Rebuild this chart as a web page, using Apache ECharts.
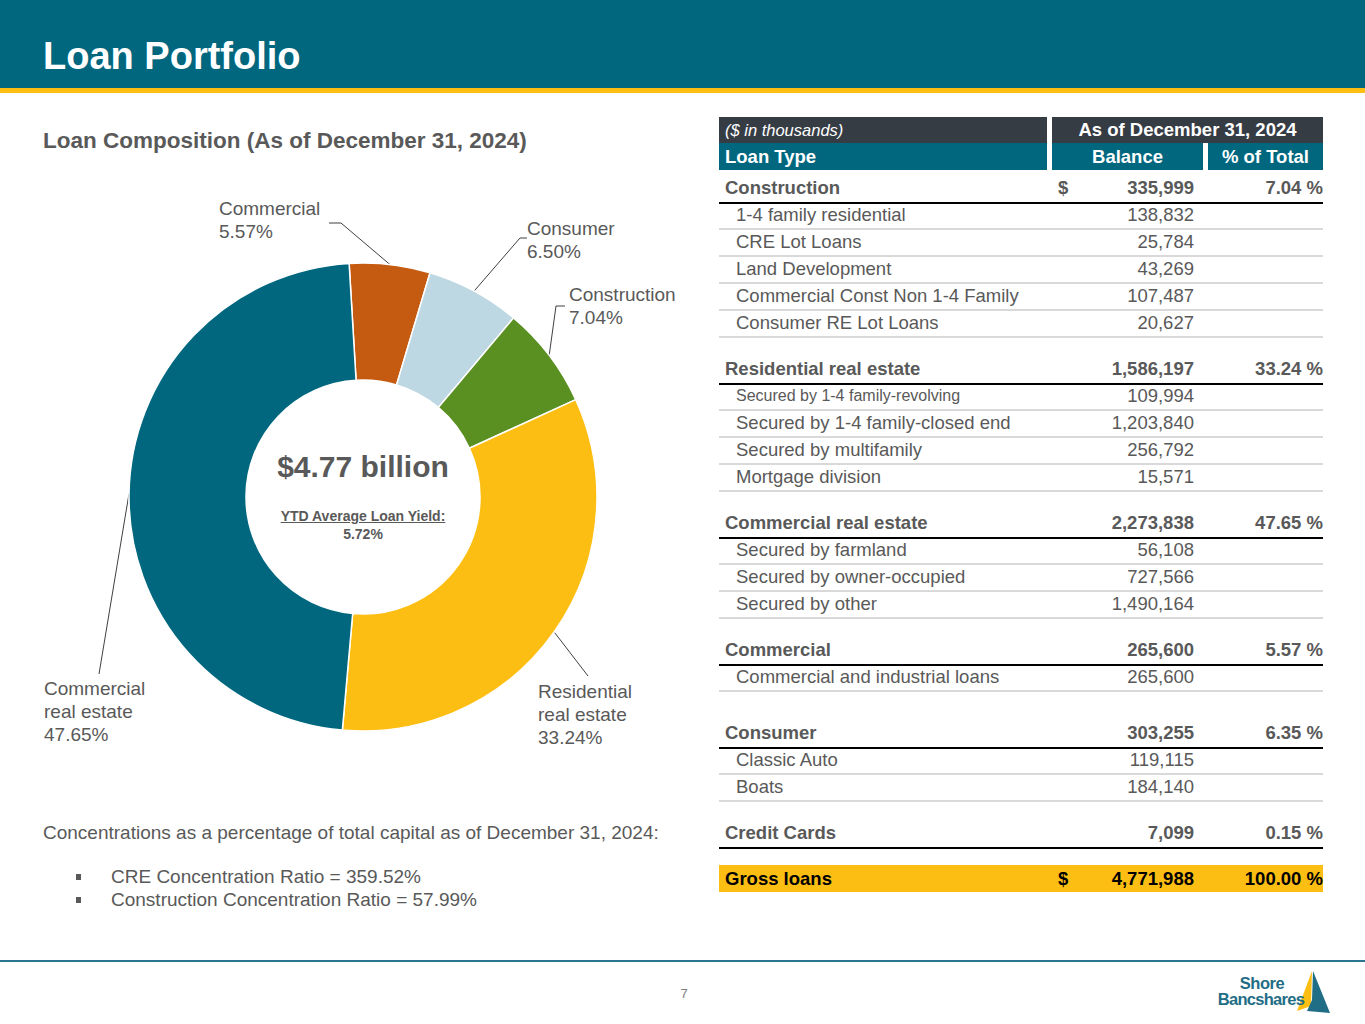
<!DOCTYPE html>
<html><head><meta charset="utf-8">
<script src="https://cdn.jsdelivr.net/npm/echarts@6/dist/echarts.min.js"></script>
<style>
html,body{margin:0;padding:0;background:#fff;width:1365px;height:1024px;overflow:hidden;font-family:'Liberation Sans',Arial,sans-serif;}
.abs{position:absolute;white-space:nowrap;}
</style></head><body>
<div id="page" style="position:relative;width:1365px;height:1024px;">
<div class="abs" style="left:0;top:0;width:1365px;height:88px;background:#00677F"></div>
<div class="abs" style="left:0;top:88px;width:1365px;height:5px;background:#FDBE14"></div>
<div id="chart" class="abs" style="left:0;top:150px;width:700px;height:640px;"></div>
<div class="abs" style="left:0;top:960px;width:1365px;height:2px;background:#2A7690"></div>
<svg class="abs" style="left:1290px;top:965px" width="45" height="55" viewBox="1290 965 45 55">
  <polygon points="1312,971 1297,1011 1311,1006" fill="#FDBE14"/>
  <polygon points="1313,971 1330,1013 1307,1011 1312,1000" fill="#1F6E86"/>
</svg>
</div>
<script>
// ---------- DATA ----------
const sliceNames = ['Commercial', 'Consumer', 'Construction', 'Residential\nreal estate', 'Commercial\nreal estate'];
const slicePcts = [5.57, 6.50, 7.04, 33.24, 47.65];
const sliceColors = ['#C55A11', '#BDD7E3', '#5A8F22', '#FDBE14', '#00677F'];

const groupNames = ['Construction', 'Residential real estate', 'Commercial real estate', 'Commercial', 'Consumer', 'Credit Cards'];
const groupBalances = [335999, 1586197, 2273838, 265600, 303255, 7099];
const groupPcts = [7.04, 33.24, 47.65, 5.57, 6.35, 0.15];

const constructionItems = ['1-4 family residential', 'CRE Lot Loans', 'Land Development', 'Commercial Const Non 1-4 Family', 'Consumer RE Lot Loans'];
const constructionBalances = [138832, 25784, 43269, 107487, 20627];
const residentialItems = ['Secured by 1-4 family-revolving', 'Secured by 1-4 family-closed end', 'Secured by multifamily', 'Mortgage division'];
const residentialBalances = [109994, 1203840, 256792, 15571];
const creItems = ['Secured by farmland', 'Secured by owner-occupied', 'Secured by other'];
const creBalances = [56108, 727566, 1490164];
const commercialItems = ['Commercial and industrial loans'];
const commercialBalances = [265600];
const consumerItems = ['Classic Auto', 'Boats'];
const consumerBalances = [119115, 184140];
const creditItems = [];
const creditBalances = [];

const grossLabel = 'Gross loans';
const grossBalance = 4771988;
const grossPct = 100.00;

const totalText = '$4.77 billion';
const yieldLabel = 'YTD Average Loan Yield:';
const yieldValue = '5.72%';
const concentrationIntro = 'Concentrations as a percentage of total capital as of December 31, 2024:';
const concentrationItems = ['CRE Concentration Ratio = 359.52%', 'Construction Concentration Ratio = 57.99%'];

// ---------- HELPERS ----------
const page = document.getElementById('page');
const TXT = '#595959';
function T(str, x, yc, o) {
  o = o || {};
  const d = document.createElement('div');
  d.className = 'abs';
  d.textContent = str;
  const h = o.h || 26;
  d.style.top = (yc - h / 2) + 'px';
  d.style.height = h + 'px';
  d.style.lineHeight = h + 'px';
  d.style.fontSize = (o.fs || 18.5) + 'px';
  d.style.color = o.color || TXT;
  if (o.bold) d.style.fontWeight = 'bold';
  if (o.italic) d.style.fontStyle = 'italic';
  if (o.underline) d.style.textDecoration = 'underline';
  if (o.ls) d.style.letterSpacing = o.ls + 'px';
  if (o.align === 'right') { d.style.left = (x - 500) + 'px'; d.style.width = '500px'; d.style.textAlign = 'right'; }
  else if (o.align === 'center') { d.style.left = (x - 300) + 'px'; d.style.width = '600px'; d.style.textAlign = 'center'; }
  else d.style.left = x + 'px';
  page.appendChild(d);
  return d;
}
function Rect(x, y, w, h, c) {
  const d = document.createElement('div');
  d.className = 'abs';
  d.style.left = x + 'px'; d.style.top = y + 'px'; d.style.width = w + 'px'; d.style.height = h + 'px'; d.style.background = c;
  page.appendChild(d);
}
const fmt = v => v.toLocaleString('en-US');

// ---------- HEADER / TEXT ----------
T('Loan Portfolio', 43, 56, { fs: 38, bold: true, color: '#fff', h: 50 });
T('Loan Composition (As of December 31, 2024)', 43, 141, { fs: 22.5, bold: true, h: 30 });
T(totalText, 363, 467, { fs: 30, bold: true, align: 'center', h: 40 });
T(yieldLabel, 363, 516, { fs: 14, bold: true, underline: true, align: 'center', h: 18 });
T(yieldValue, 363, 534, { fs: 14, bold: true, align: 'center', h: 18 });
T(concentrationIntro, 43, 833, { fs: 19 });
concentrationItems.forEach((s, i) => {
  Rect(76, 874 + i * 23, 5, 6, '#595959');
  T(s, 111, 877 + i * 23, { fs: 19 });
});
T('7', 684, 994, { fs: 13, color: '#7f7f7f', align: 'center', h: 16 });
T('Shore', 1262, 983, { fs: 16.5, bold: true, color: '#1F6E86', align: 'center', h: 17, ls: -0.5 });
T('Bancshares', 1261, 999, { fs: 16.5, bold: true, color: '#1F6E86', align: 'center', h: 17, ls: -0.7 });

// ---------- TABLE ----------
const TL = 719, TW = 604, TR = TL + TW;
Rect(TL, 117, 328, 26, '#363C44');
Rect(1052, 117, 271, 26, '#363C44');
Rect(TL, 143, 328, 27, '#00677F');
Rect(1052, 143, 151, 27, '#00677F');
Rect(1208, 143, 115, 27, '#00677F');
T('($ in thousands)', 725, 130, { fs: 16.5, italic: true, color: '#fff' });
T('As of December 31, 2024', 1187.5, 130, { fs: 18.5, bold: true, color: '#fff', align: 'center' });
T('Loan Type', 725, 157, { fs: 18.5, bold: true, color: '#fff' });
T('Balance', 1127.5, 157, { fs: 18.5, bold: true, color: '#fff', align: 'center' });
T('% of Total', 1265.5, 157, { fs: 18.5, bold: true, color: '#fff', align: 'center' });

const groupItems = [constructionItems, residentialItems, creItems, commercialItems, consumerItems, creditItems];
const groupItemVals = [constructionBalances, residentialBalances, creBalances, commercialBalances, consumerBalances, creditBalances];
const extraGap = [0, 0, 0, 0, 10, 0];
let y = 188;
let lastLine = 0;
groupNames.forEach((name, gi) => {
  y += extraGap[gi];
  T(name, 725, y, { bold: true });
  if (gi === 0) T('$', 1058, y, { bold: true });
  T(fmt(groupBalances[gi]), 1194, y, { bold: true, align: 'right' });
  T(groupPcts[gi].toFixed(2) + ' %', TR, y, { bold: true, align: 'right' });
  Rect(TL, y + 14, TW, 2, '#000');
  lastLine = y + 14;
  let sy = y;
  groupItems[gi].forEach((it, ii) => {
    sy += 27;
    const small = it === 'Secured by 1-4 family-revolving';
    T(it, 736, sy, { fs: small ? 16 : 18.5 });
    T(fmt(groupItemVals[gi][ii]), 1194, sy, { align: 'right' });
    Rect(TL, sy + 13, TW, 2, '#D9D9D9');
  });
  y = (groupItems[gi].length ? sy + 14 : y + 15) + 32;
});
Rect(TL, lastLine + 18, TW, 27, '#FDBE14');
const gy = lastLine + 31.5;
T(grossLabel, 725, gy, { bold: true, color: '#000' });
T('$', 1058, gy, { bold: true, color: '#000' });
T(fmt(grossBalance), 1194, gy, { bold: true, color: '#000', align: 'right' });
T(grossPct.toFixed(2) + ' %', TR, gy, { bold: true, color: '#000', align: 'right' });

// ---------- DONUT ----------
const TOP = 150;
const labelPlace = [
  { x: 219, y: 197, e: [341, 223], t: [329, 223] },
  { x: 527, y: 217, e: [520, 238], t: [527, 238] },
  { x: 569, y: 283, e: [556, 306], t: [565, 306] },
  { x: 538, y: 680, e: null, t: [588, 676] },
  { x: 44, y: 677, e: null, t: [99, 674] }
];
const chart = echarts.init(document.getElementById('chart'), null, { renderer: 'svg' });
chart.setOption({
  animation: false,
  series: [{
    type: 'pie',
    center: [363, 497 - TOP],
    radius: [117, 234],
    startAngle: 93.4,
    clockwise: true,
    silent: true,
    avoidLabelOverlap: false,
    emphasis: { disabled: true },
    itemStyle: { borderColor: '#fff', borderWidth: 1.5 },
    label: {
      show: true, position: 'outside',
      formatter: p => p.name + '\n' + p.value.toFixed(2) + '%',
      fontSize: 19, lineHeight: 23, color: '#595959',
      fontFamily: 'Liberation Sans, Arial, sans-serif'
    },
    labelLine: { show: true, lineStyle: { color: '#404040', width: 1 } },
    labelLayout: function (params) {
      const L = labelPlace[params.dataIndex];
      const p0 = params.labelLinePoints ? params.labelLinePoints[0] : L.t;
      const pts = [p0];
      if (L.e) pts.push([L.e[0], L.e[1] - TOP]);
      pts.push([L.t[0], L.t[1] - TOP]);
      return { x: L.x, y: L.y - TOP, align: 'left', verticalAlign: 'top', labelLinePoints: pts };
    },
    data: sliceNames.map((n, i) => ({ name: n, value: slicePcts[i], itemStyle: { color: sliceColors[i] } }))
  }]
});
</script>
</body></html>
